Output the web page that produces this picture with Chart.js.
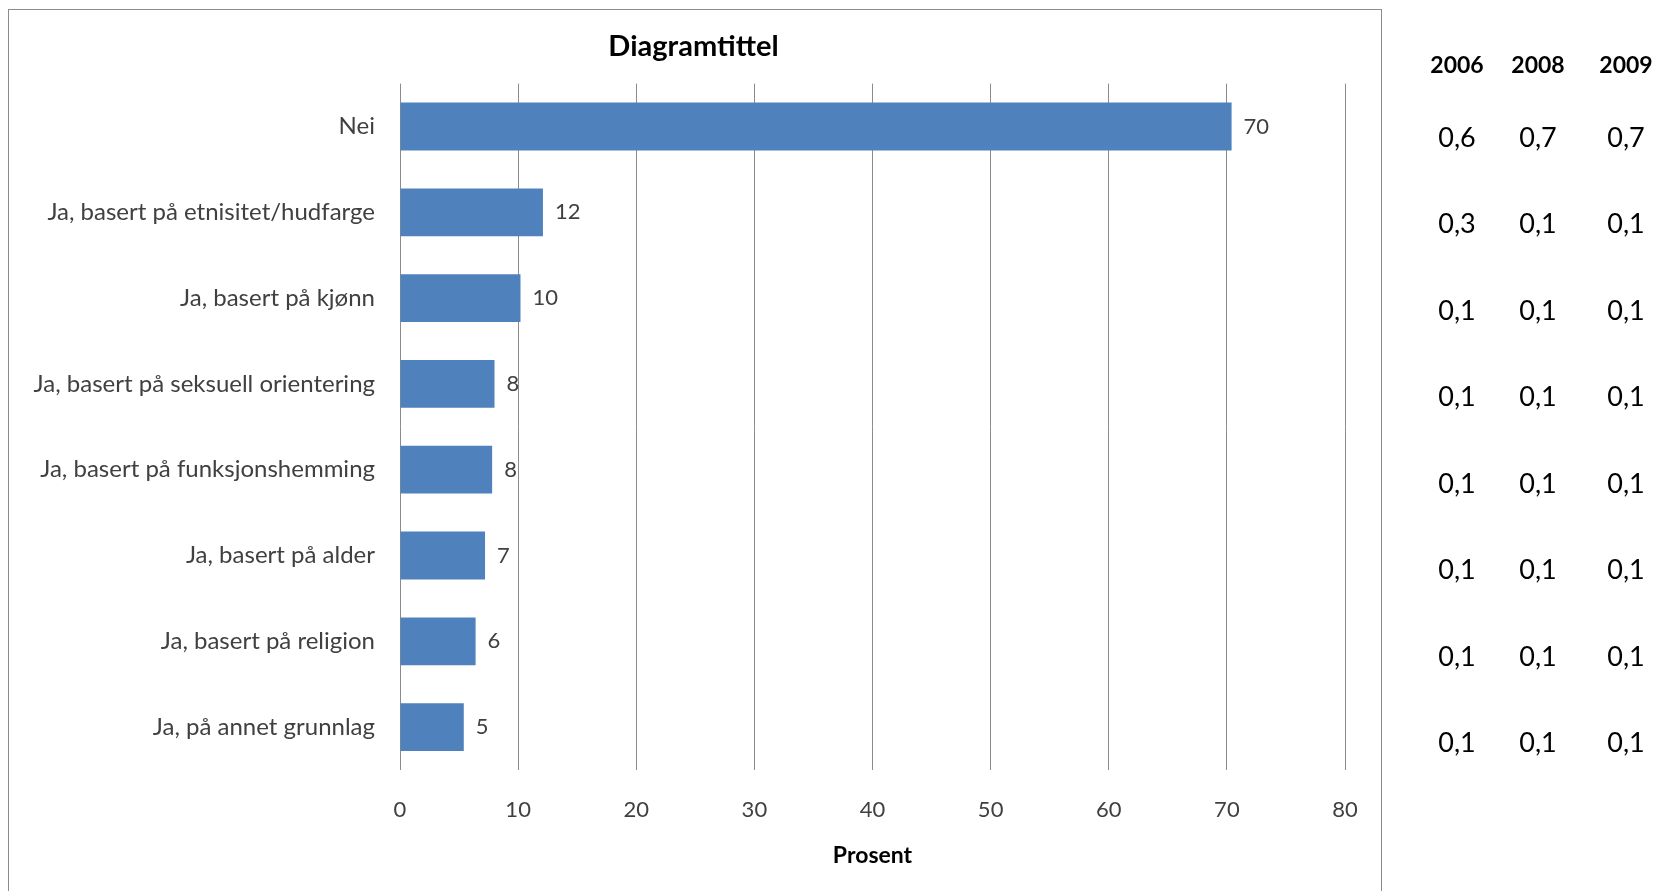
<!DOCTYPE html>
<html>
<head>
<meta charset="utf-8">
<script src="https://cdn.jsdelivr.net/npm/chart.js"></script>
<style>
  body { margin: 0; background: #fff; width: 1659px; height: 891px; overflow: hidden; position: relative; font-family: Lato, sans-serif; }
  #frame { position: absolute; left: 8px; top: 9px; width: 1372px; height: 900px; border: 1px solid #8c8c8c; }
  #chart { position: absolute; left: 0; top: 0; }
  #title { position: absolute; left: 693.5px; top: 44px; transform: translate(-50%, -50%); font: bold 29px Lato; color: #000; white-space: nowrap; }
  .cell { position: absolute; transform: translate(-50%, -50%); color: #000; font-size: 27px; white-space: nowrap; }
  .head { font-weight: bold; font-size: 23px; }
</style>
</head>
<body>
<div id="frame"></div>
<canvas id="chart" width="1659" height="891"></canvas>
<div id="title">Diagramtittel</div>
<div id="table"></div>
<script>
const categories = [
    'Nei',
    'Ja, basert på etnisitet/hudfarge',
    'Ja, basert på kjønn',
    'Ja, basert på seksuell orientering',
    'Ja, basert på funksjonshemming',
    'Ja, basert på alder',
    'Ja, basert på religion',
    'Ja, på annet grunnlag'
];
const values = [70.4, 12.1, 10.2, 8.0, 7.8, 7.2, 6.4, 5.4];
const xTicks = [0, 10, 20, 30, 40, 50, 60, 70, 80];

// side table
const years = ['2006', '2008', '2009'];
const col2006 = ['0,6', '0,3', '0,1', '0,1', '0,1', '0,1', '0,1', '0,1'];
const col2008 = ['0,7', '0,1', '0,1', '0,1', '0,1', '0,1', '0,1', '0,1'];
const col2009 = ['0,7', '0,1', '0,1', '0,1', '0,1', '0,1', '0,1', '0,1'];

const textColor = '#404040';
const gridColor = '#8c8c8c';

// tall etter stolpene
const barLabels = {
    id: 'barLabels',
    afterDatasetsDraw(chart) {
        const ctx = chart.ctx;
        const meta = chart.getDatasetMeta(0);
        ctx.save();
        ctx.font = '22px Lato';
        ctx.fillStyle = textColor;
        ctx.textAlign = 'left';
        ctx.textBaseline = 'middle';
        meta.data.forEach((bar, i) => {
            ctx.fillText(String(Math.round(values[i])), bar.x + 12, bar.y);
        });
        ctx.restore();
    }
};

new Chart(document.getElementById('chart').getContext('2d'), {
    type: 'bar',
    data: {
        labels: categories,
        datasets: [{
            data: values,
            backgroundColor: '#4F81BD',
            barPercentage: 0.557,
            categoryPercentage: 1
        }]
    },
    options: {
        indexAxis: 'y',
        responsive: false,
        animation: false,
        layout: { padding: { left: 0, right: 314, top: 83.6, bottom: 11 } },
        plugins: {
            legend: { display: false },
            tooltip: { enabled: false },
            title: { display: false }
        },
        scales: {
            x: {
                min: 0,
                max: 80,
                afterBuildTicks: s => { s.ticks = xTicks.map(v => ({ value: v })); },
                ticks: { color: textColor, font: { family: 'Lato', size: 22 }, padding: 26.8 },
                grid: { color: gridColor, drawTicks: false },
                border: { display: false },
                title: {
                    display: true,
                    text: 'Prosent',
                    color: '#000',
                    font: { family: 'Lato', size: 23, weight: 'bold' },
                    padding: { top: 0, bottom: 10.2 }
                },
                afterFit: s => { s.height = 110; }
            },
            y: {
                ticks: { color: textColor, font: { family: 'Lato', size: 24 }, padding: 25 },
                grid: { display: false, drawTicks: false },
                border: { display: false },
                afterFit: s => { s.width = 400; }
            }
        }
    },
    plugins: [barLabels]
});

// side table
const table = document.getElementById('table');
const colX = [1457, 1538, 1626];
const cols = [col2006, col2008, col2009];
years.forEach((y, c) => {
    const h = document.createElement('div');
    h.className = 'cell head';
    h.textContent = y;
    h.style.left = colX[c] + 'px';
    h.style.top = '64px';
    table.appendChild(h);
    cols[c].forEach((v, r) => {
        const d = document.createElement('div');
        d.className = 'cell';
        d.textContent = v;
        d.style.left = colX[c] + 'px';
        d.style.top = (135.5 + r * 86.5) + 'px';
        table.appendChild(d);
    });
});
</script>
</body>
</html>
